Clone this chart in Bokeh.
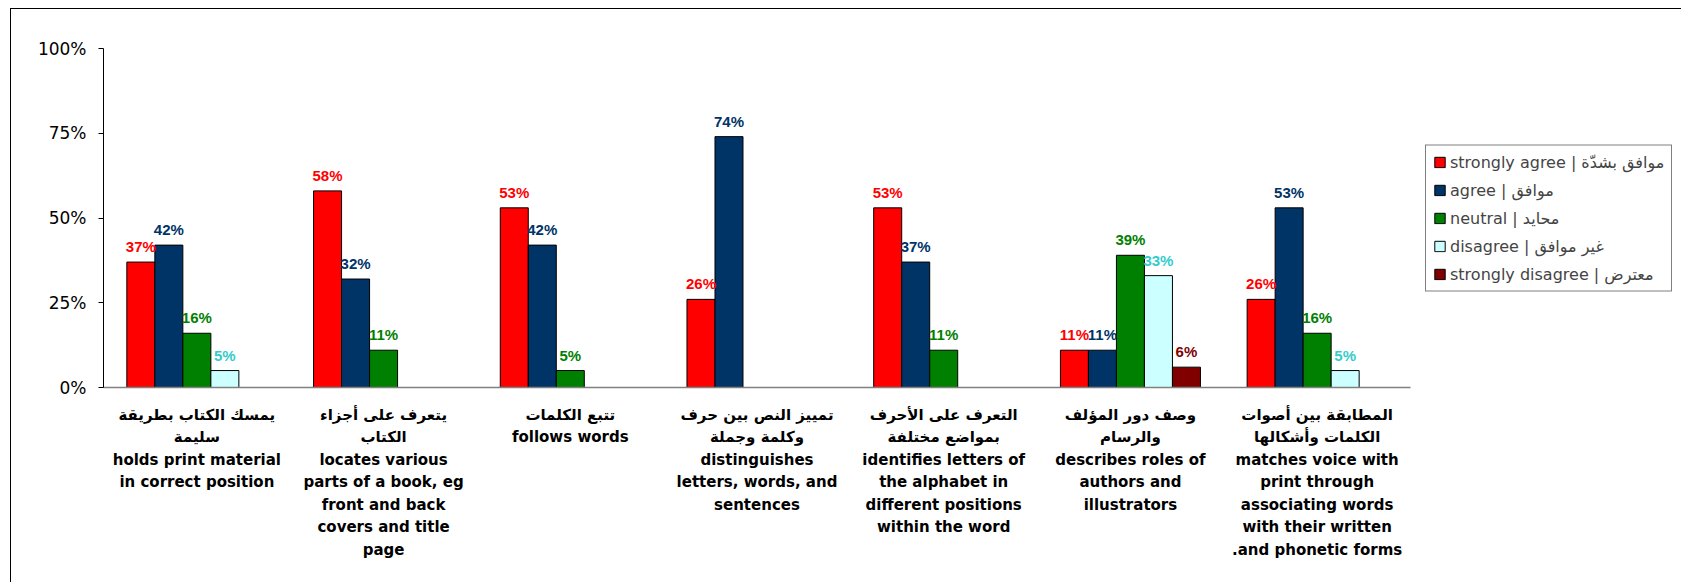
from bokeh.plotting import figure
from bokeh.models import (ColumnDataSource, FactorRange, LabelSet, Legend, LegendItem,
                          NumeralTickFormatter, FixedTicker)
from bokeh.transform import dodge
from bokeh.core.properties import value
from bokeh.embed import file_html
from bokeh.resources import INLINE

categories = [
    "يمسك الكتاب بطريقة\nسليمة\nholds print material\nin correct position",
    "يتعرف على أجزاء\nالكتاب\nlocates various\nparts of a book, eg\nfront and back\ncovers and title\npage",
    "تتبع الكلمات\nfollows words",
    "تمييز النص بين حرف\nوكلمة وجملة\ndistinguishes\nletters, words, and\nsentences",
    "التعرف على الأحرف\nبمواضع مختلفة\nidentifies letters of\nthe alphabet in\ndifferent positions\nwithin the word",
    "وصف دور المؤلف\nوالرسام\ndescribes roles of\nauthors and\nillustrators",
    "المطابقة بين أصوات\nالكلمات وأشكالها\nmatches voice with\nprint through\nassociating words\nwith their written\n.and phonetic forms",
]

series_names = [
    "strongly agree | موافق بشدّة",
    "agree | موافق",
    "neutral | محايد",
    "disagree | غير موافق",
    "strongly disagree | معترض",
]

strongly_agree = [37, 58, 53, 26, 53, 11, 26]
agree = [42, 32, 42, 74, 37, 11, 53]
neutral = [16, 11, 5, 0, 11, 39, 16]
disagree = [5, 0, 0, 0, 0, 33, 5]
strongly_disagree = [0, 0, 0, 0, 0, 6, 0]

series_values = [strongly_agree, agree, neutral, disagree, strongly_disagree]
bar_colors = ["#FF0000", "#003366", "#008000", "#CCFFFF", "#800000"]
label_colors = ["#FF0000", "#003366", "#008000", "#33CCCC", "#800000"]
offsets = [-0.3, -0.15, 0.0, 0.15, 0.3]

p = figure(x_range=FactorRange(*categories, range_padding=0), y_range=(0, 1),
           frame_width=1307, frame_height=339, output_backend="svg", toolbar_location=None,
           min_border_left=92, min_border_right=0, min_border_top=39, min_border_bottom=195)
p.styles = {"margin-left": "10px", "margin-top": "8px",
            "border-top": "1px solid black", "border-left": "1px solid black"}
p.outline_line_color = None
p.xgrid.grid_line_color = None
p.ygrid.grid_line_color = None
p.background_fill_color = "white"
p.border_fill_color = "white"

items = []
for name, vals, bc, lc, off in zip(series_names, series_values, bar_colors, label_colors, offsets):
    xs = [c for c, v in zip(categories, vals) if v > 0]
    ys = [v / 100 for v in vals if v > 0]
    txt = [f"{v}%" for v in vals if v > 0]
    src = ColumnDataSource(dict(x=xs, y=ys, t=txt))
    r = p.vbar(x=dodge("x", off, range=p.x_range), top="y", width=0.15, source=src,
               fill_color=bc, line_color="black", line_width=1)
    items.append(LegendItem(label=name, renderers=[r]))
    lab = LabelSet(x=dodge("x", off, range=p.x_range), y="y", text="t", source=src,
                   text_align="center", text_baseline="alphabetic", y_offset=10,
                   text_font=value("Liberation Sans"), text_font_style="bold",
                   text_font_size="15px", text_color=lc)
    p.add_layout(lab)

legend = Legend(items=items, location="left")
legend.border_line_color = "black"
legend.border_line_width = 1
legend.background_fill_color = "white"
legend.background_fill_alpha = 1
legend.label_text_font = "DejaVu Sans"
legend.label_text_font_size = "16px"
legend.glyph_width = 13
legend.glyph_height = 13
legend.label_height = 18
legend.padding = 7
legend.spacing = 9
legend.label_standoff = 4
legend.margin = 15
p.add_layout(legend, "right")

p.yaxis.ticker = FixedTicker(ticks=[0, 0.25, 0.5, 0.75, 1.0])
p.yaxis.formatter = NumeralTickFormatter(format="0%")
p.yaxis.major_label_text_font = "DejaVu Sans"
p.yaxis.major_label_text_font_size = "17px"
p.yaxis.major_label_text_color = "black"
p.yaxis.major_tick_out = 5
p.yaxis.major_tick_in = 0
p.yaxis.minor_tick_out = 0
p.yaxis.minor_tick_in = 0
p.yaxis.major_label_standoff = 12
p.yaxis.axis_line_color = "black"

p.xaxis.major_tick_out = 0
p.xaxis.major_tick_in = 0
p.xaxis.axis_line_color = "#808080"
p.xaxis.axis_line_width = 1.5
p.xaxis.major_label_text_font = "DejaVu Sans"
p.xaxis.major_label_text_font_style = "bold"
p.xaxis.major_label_text_font_size = "15px"
p.xaxis.major_label_text_color = "black"
p.xaxis.major_label_text_line_height = 1.25
p.xaxis.major_label_standoff = 18
p.xaxis.major_label_orientation = "horizontal"

open("out.html", "w").write(file_html(p, INLINE))
